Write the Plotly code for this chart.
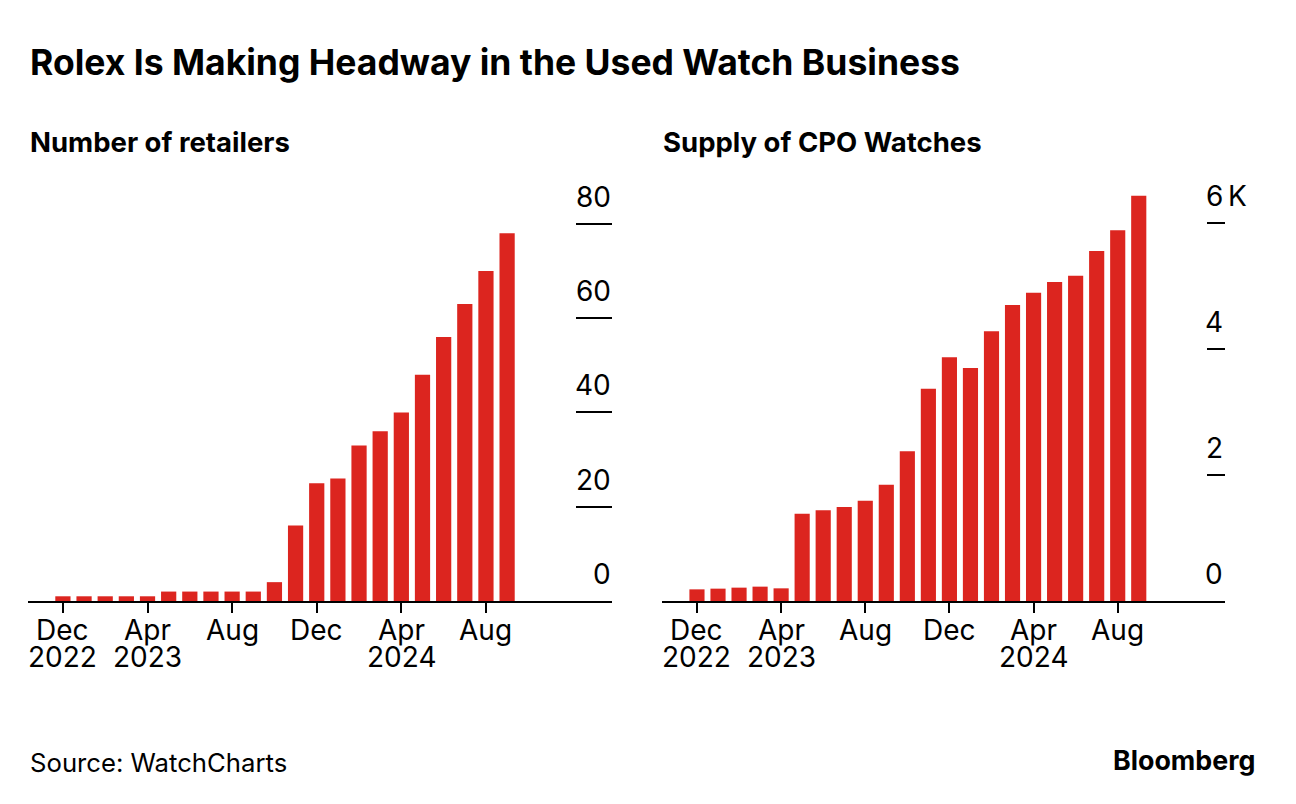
import plotly.graph_objects as go
from plotly.subplots import make_subplots

months = ["Dec 2022", "Jan 2023", "Feb 2023", "Mar 2023", "Apr 2023", "May 2023",
          "Jun 2023", "Jul 2023", "Aug 2023", "Sep 2023", "Oct 2023", "Nov 2023",
          "Dec 2023", "Jan 2024", "Feb 2024", "Mar 2024", "Apr 2024", "May 2024",
          "Jun 2024", "Jul 2024", "Aug 2024", "Sep 2024"]
retailers = [1, 1, 1, 1, 1, 2, 2, 2, 2, 2, 4, 16, 25, 26, 33, 36, 40, 48, 56, 63, 70, 78]
cpo_supply = [185, 196, 212, 228, 201, 1386, 1439, 1492, 1593, 1847, 2376, 3370,
              3868, 3698, 4280, 4698, 4894, 5063, 5164, 5556, 5884, 6434]

x_tickvals = ["Dec 2022", "Apr 2023", "Aug 2023", "Dec 2023", "Apr 2024", "Aug 2024"]
x_month_text = ["Dec", "Apr", "Aug", "Dec", "Apr", "Aug"]
year_labels = {"Dec 2022": "2022", "Apr 2023": "2023", "Apr 2024": "2024"}
left_ytick = [20, 40, 60, 80]
left_ylabels = ["0", "20", "40", "60", "80"]
right_ytick = [2000, 4000, 6000]
right_ylabels = ["0", "2", "4", "6"]

RED = "#dc251f"
FONT = "Inter"

fig = make_subplots(rows=1, cols=2, horizontal_spacing=0.0)
fig.add_trace(go.Bar(x=months, y=retailers, marker_color=RED, marker_line_width=0), 1, 1)
fig.add_trace(go.Bar(x=months, y=cpo_supply, marker_color=RED, marker_line_width=0), 1, 2)

xcommon = dict(type="category", tickvals=x_tickvals, showticklabels=False,
               showline=True, linecolor="black", linewidth=2,
               ticks="outside", ticklen=10, tickwidth=2, tickcolor="black",
               showgrid=False, zeroline=False)
fig.update_xaxes(**xcommon)
fig.update_xaxes(domain=[0, 0.4879], range=[-1.65, 25.96], row=1, col=1)
fig.update_xaxes(domain=[0.5297, 1], range=[-1.66, 25.1], row=1, col=2)

ycommon = dict(side="right", ticks="inside", tickwidth=2, tickcolor="black",
               showticklabels=False, showgrid=False, zeroline=False, showline=False)
fig.update_yaxes(**ycommon)
fig.update_yaxes(range=[0, 87.2], tickvals=left_ytick, ticklen=36, row=1, col=1)
fig.update_yaxes(range=[0, 6524], tickvals=right_ytick, ticklen=18, row=1, col=2)

ann = []
lab_font = dict(family=FONT, size=28, color="black")
for i, t in enumerate(left_ylabels):
    ann.append(dict(xref="x domain", yref="y", x=1, y=i * 20, text=t, showarrow=False,
                    xanchor="right", yanchor="bottom", yshift=8, xshift=1, font=lab_font))
for i, t in enumerate(right_ylabels):
    ann.append(dict(xref="x2 domain", yref="y2", x=1, y=i * 2000, text=t, showarrow=False,
                    xanchor="right", yanchor="bottom", yshift=8, xshift=0, font=lab_font))
ann.append(dict(xref="x2 domain", yref="y2", x=1, y=6000, text="K", showarrow=False,
                xanchor="left", yanchor="bottom", yshift=8, xshift=1, font=lab_font))

for xr in ["x", "x2"]:
    for m, t in zip(x_tickvals, x_month_text):
        ann.append(dict(xref=xr, yref="paper", x=m, y=-0.0706, text=t, showarrow=False,
                        xanchor="center", yanchor="middle", font=lab_font))
    for m, yl in year_labels.items():
        ann.append(dict(xref=xr, yref="paper", x=m, y=-0.136, text=yl, showarrow=False,
                        xanchor="center", yanchor="middle", font=lab_font))

ann.append(dict(xref="paper", yref="paper", x=0, y=1.311, text="<b>Rolex Is Making Headway in the Used Watch Business</b>",
                showarrow=False, xanchor="left", yanchor="middle",
                font=dict(family=FONT, size=35.5, color="black")))
ann.append(dict(xref="paper", yref="paper", x=0, y=1.117, text="<b>Number of retailers</b>",
                showarrow=False, xanchor="left", yanchor="middle",
                font=dict(family=FONT, size=27.5, color="black")))
ann.append(dict(xref="paper", yref="paper", x=0.5288, y=1.117, text="<b>Supply of CPO Watches</b>",
                showarrow=False, xanchor="left", yanchor="middle",
                font=dict(family=FONT, size=27.5, color="black")))
ann.append(dict(xref="paper", yref="paper", x=0, y=-0.392, text="Source: WatchCharts",
                showarrow=False, xanchor="left", yanchor="middle",
                font=dict(family=FONT, size=25.7, color="black")))
ann.append(dict(xref="paper", yref="paper", x=1.0267, y=-0.387, text="<b>Bloomberg</b>",
                showarrow=False, xanchor="right", yanchor="middle",
                font=dict(family=FONT, size=26.8, color="black")))

fig.update_layout(width=1296, height=804, margin=dict(l=20, r=79, t=182, b=211),
                  paper_bgcolor="white", plot_bgcolor="white", showlegend=False,
                  bargap=0.28, annotations=ann)
fig.write_html("out.html")
